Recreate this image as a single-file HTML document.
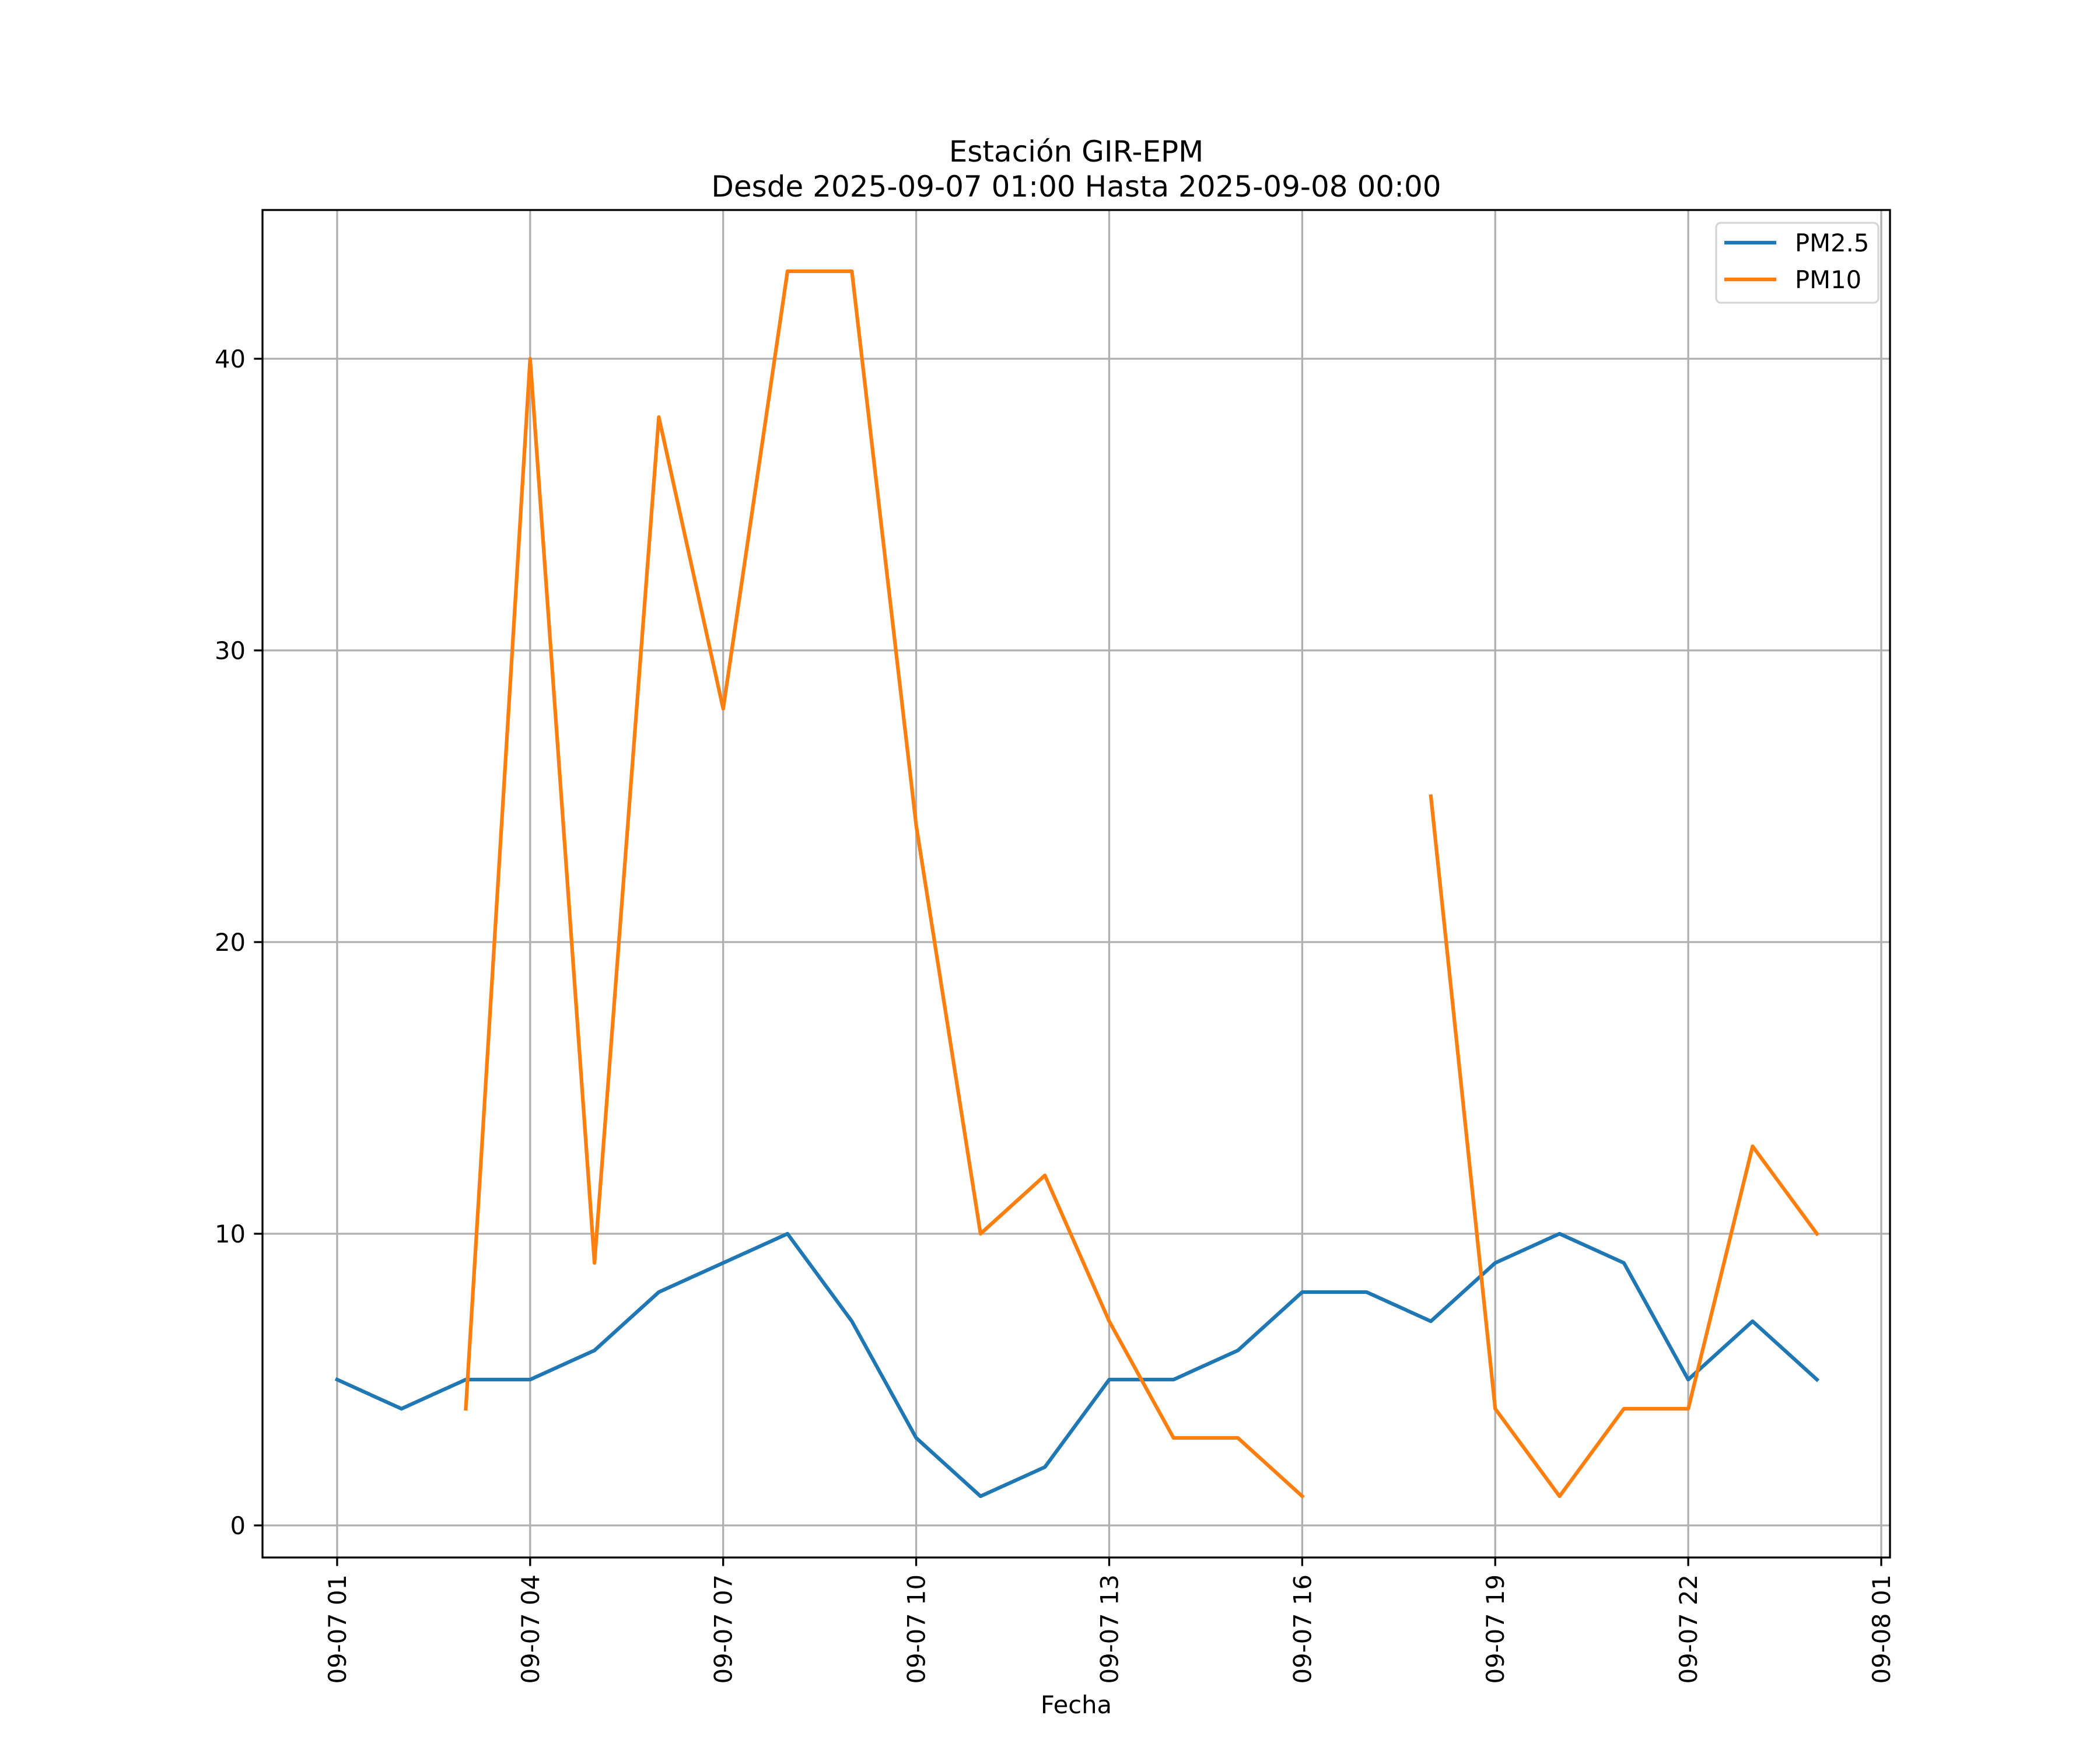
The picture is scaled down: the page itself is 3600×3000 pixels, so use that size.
<!DOCTYPE html>
<html><head><meta charset="utf-8"><style>
html,body{margin:0;padding:0;background:#fff}
svg{display:block;font-family:"DejaVu Sans","Liberation Sans",sans-serif}
</style></head><body>
<svg id="chart" width="3600" height="3000" viewBox="0 0 3600 3000" xmlns="http://www.w3.org/2000/svg">
<rect width="3600" height="3000" fill="#fff"/>
<text x="1845" y="277" font-size="50" text-anchor="middle">Estación GIR-EPM</text>
<text x="1845" y="337" font-size="50" text-anchor="middle">Desde 2025-09-07 01:00 Hasta 2025-09-08 00:00</text>
<g id="grid"></g><g id="series"></g><g id="axes"></g>
<text x="1845" y="2937" font-size="41.7" text-anchor="middle">Fecha</text>
<g>
<rect x="2942" y="382" width="278" height="137" rx="8" fill="#fff" fill-opacity="0.8" stroke="#d6d6d6" stroke-width="3.3"/>
<line x1="2956" y1="416" x2="3045" y2="416" stroke="#1f77b4" stroke-width="6.25"/>
<text x="3077" y="431" font-size="41.7">PM2.5</text>
<line x1="2956" y1="479" x2="3045" y2="479" stroke="#ff7f0e" stroke-width="6.25"/>
<text x="3077" y="494" font-size="41.7">PM10</text>
</g>
</svg>
<script>
const hours=[1,2,3,4,5,6,7,8,9,10,11,12,13,14,15,16,17,18,19,20,21,22,23,24];
const pm25=[5,4,5,5,6,8,9,10,7,3,1,2,5,5,6,8,8,7,9,10,9,5,7,5];
const pm10=[null,null,4,40,9,38,28,43,43,24,10,12,7,3,3,1,null,25,4,1,4,4,13,10];
const xTickHours=[1,4,7,10,13,16,19,22,25];
const xTickLabels=["09-07 01","09-07 04","09-07 07","09-07 10","09-07 13","09-07 16","09-07 19","09-07 22","09-08 01"];
const yTicks=[0,10,20,30,40];
const L=450,R=3240,T=360,B=2670;
const xMin=-0.16,xMax=25.136,yMin=-1.1,yMax=45.1;
const NS="http://www.w3.org/2000/svg";
function X(h){return L+(h-xMin)/(xMax-xMin)*(R-L);}
function Y(v){return B-(v-yMin)/(yMax-yMin)*(B-T);}
function mk(tag,attrs,parent){const e=document.createElementNS(NS,tag);for(const k in attrs)e.setAttribute(k,attrs[k]);parent.appendChild(e);return e;}
const grid=document.getElementById('grid'),axes=document.getElementById('axes'),ser=document.getElementById('series');
xTickHours.forEach((h,i)=>{
  const x=X(h);
  const g=mk('line',{x1:x,y1:T,x2:x,y2:B,stroke:'#b0b0b0','stroke-width':3.3},grid);
  
  
  const t=mk('line',{x1:x,y1:B,x2:x,y2:B+14.6,stroke:'#000','stroke-width':3.3},axes);
  
  
  const lb=mk('text',{x:0,y:0,'font-size':41.7,'text-anchor':'end',transform:`translate(${x+15},${B+29}) rotate(-90)`},axes);
  lb.textContent=xTickLabels[i];
  
  
});
yTicks.forEach(v=>{
  const y=Y(v);
  const g=mk('line',{x1:L,y1:y,x2:R,y2:y,stroke:'#b0b0b0','stroke-width':3.3},grid);
  
  
  const t=mk('line',{x1:L-14.6,y1:y,x2:L,y2:y,stroke:'#000','stroke-width':3.3},axes);
  
  
  const lb=mk('text',{x:L-29,y:y+15,'font-size':41.7,'text-anchor':'end'},axes);
  lb.textContent=String(v);
  
  
});
const frame=mk('rect',{x:L,y:T,width:R-L,height:B-T,fill:'none',stroke:'#000','stroke-width':3.3},axes);


function pathFor(vals){let d='',pen=false;vals.forEach((v,i)=>{if(v===null){pen=false;return;}d+=(pen?'L':'M')+X(hours[i]).toFixed(1)+' '+Y(v).toFixed(1);pen=true;});return d;}
const p1=mk('path',{d:pathFor(pm25),fill:'none',stroke:'#1f77b4','stroke-width':6.25,'stroke-linejoin':'round','stroke-linecap':'square'},ser);


const p2=mk('path',{d:pathFor(pm10),fill:'none',stroke:'#ff7f0e','stroke-width':6.25,'stroke-linejoin':'round','stroke-linecap':'square'},ser);


</script>
</body></html>
